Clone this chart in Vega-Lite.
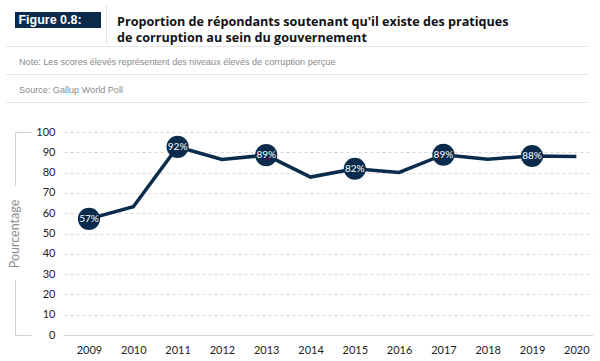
{
  "$schema": "https://vega.github.io/schema/vega-lite/v6.json",
  "background": "white",
  "padding": {"left": 5, "top": 4, "right": 0, "bottom": 0},
  "config": {
    "view": {"stroke": null},
    "font": "Lato",
    "concat": {"spacing": 0}
  },
  "datasets": {
    "series": [
      {"year": 2009, "value": 57.2, "label": "57%"},
      {"year": 2010, "value": 63.2},
      {"year": 2011, "value": 92.7, "label": "92%"},
      {"year": 2012, "value": 86.5},
      {"year": 2013, "value": 88.6, "label": "89%"},
      {"year": 2014, "value": 77.8},
      {"year": 2015, "value": 81.9, "label": "82%"},
      {"year": 2016, "value": 80.1},
      {"year": 2017, "value": 88.8, "label": "89%"},
      {"year": 2018, "value": 86.6},
      {"year": 2019, "value": 88.2, "label": "88%"},
      {"year": 2020, "value": 87.9}
    ],
    "heading": [
      {
        "figure": "Figure 0.8:",
        "title": ["Proportion de répondants soutenant qu'il existe des pratiques", "de corruption au sein du gouvernement"],
        "note": "Note: Les scores élevés représentent des niveaux élevés de corruption perçue",
        "source": "Source: Gallup World Poll"
      }
    ],
    "none": []
  },
  "align": "none",
  "spacing": 0,
  "vconcat": [
    {
      "spacing": 0,
      "hconcat": [
        {"data": {"name": "none"}, "mark": "point", "width": 9, "height": 0.01},
        {
          "spacing": 0,
          "vconcat": [
            {"data": {"name": "none"}, "mark": "point", "width": 86, "height": 7},
            {
              "data": {"name": "heading"},
              "width": 86,
              "height": 16,
              "view": {"fill": "#0b2b4c", "stroke": null},
              "mark": {"type": "text", "color": "white", "font": "Liberation Sans", "fontWeight": "bold", "fontSize": 12.5, "align": "center", "baseline": "middle", "dx": -8},
              "encoding": {"text": {"field": "figure"}}
            }
          ]
        },
        {"data": {"name": "none"}, "mark": "point", "width": 4, "height": 0.01},
        {"data": {"name": "none"}, "mark": "point", "width": 0.01, "height": 38, "view": {"stroke": "#e4e4e4", "strokeWidth": 1}},
        {"data": {"name": "none"}, "mark": "point", "width": 10, "height": 0.01},
        {
          "data": {"name": "heading"},
          "width": 0.01,
          "height": 38,
          "mark": {"type": "text", "align": "left", "baseline": "middle", "dy": -2.5, "font": "Open Sans", "fontSize": 12.6, "fontWeight": "bold", "lineHeight": 16.5, "color": "#111111"},
          "encoding": {"text": {"field": "title"}}
        }
      ]
    },
    {"data": {"name": "none"}, "mark": "point", "width": 581, "height": 0.01, "view": {"stroke": "#e4e4e4", "strokeWidth": 1}},
    {
      "spacing": 0,
      "hconcat": [
        {"data": {"name": "none"}, "mark": "point", "width": 13, "height": 26},
        {
          "data": {"name": "heading"},
          "width": 0.01,
          "height": 26,
          "mark": {"type": "text", "align": "left", "baseline": "middle", "dy": 2, "fontSize": 9.1, "font": "Liberation Sans", "color": "#8a8a8a"},
          "encoding": {"text": {"field": "note"}}
        }
      ]
    },
    {"data": {"name": "none"}, "mark": "point", "width": 581, "height": 0.01, "view": {"stroke": "#e4e4e4", "strokeWidth": 1}},
    {
      "spacing": 0,
      "hconcat": [
        {"data": {"name": "none"}, "mark": "point", "width": 13, "height": 26},
        {
          "data": {"name": "heading"},
          "width": 0.01,
          "height": 26,
          "mark": {"type": "text", "align": "left", "baseline": "middle", "dy": 2, "fontSize": 9.1, "font": "Liberation Sans", "color": "#8a8a8a"},
          "encoding": {"text": {"field": "source"}}
        }
      ]
    },
    {"data": {"name": "none"}, "mark": "point", "width": 581, "height": 0.01, "view": {"stroke": "#e4e4e4", "strokeWidth": 1}},
    {"data": {"name": "none"}, "mark": "point", "width": 10, "height": 23},
    {
      "spacing": 0,
      "hconcat": [
        {"data": {"name": "none"}, "mark": "point", "width": 1.5, "height": 0.01},
        {
          "data": {"name": "series"},
          "width": 529,
          "height": 203,
          "layer": [
            {
              "mark": {"type": "line", "color": "#0b2b4c", "strokeWidth": 3.5},
              "encoding": {
                "x": {
                  "field": "year", "type": "ordinal",
                  "scale": {"type": "point", "padding": 0.47, "align": 0.6},
                  "axis": {"title": null, "labelAngle": 0, "labelFontSize": 11, "labelColor": "#222222", "ticks": false, "tickSize": 0, "labelPadding": 9, "domain": true, "domainColor": "#d4d4d4", "domainWidth": 1, "grid": false}
                },
                "y": {
                  "field": "value", "type": "quantitative",
                  "scale": {"domain": [0, 100], "nice": false},
                  "axis": {"title": null, "orient": "left", "values": [0, 10, 20, 30, 40, 50, 60, 70, 80, 90, 100], "labelFontSize": 11, "labelColor": "#222222", "labelPadding": 9, "ticks": false, "tickSize": 0, "domain": false, "grid": true, "gridColor": "#d8d8d8", "gridDash": [3, 3], "gridWidth": 1}
                }
              }
            },
            {
              "transform": [{"filter": "isValid(datum.label)"}],
              "mark": {"type": "circle", "size": 490, "opacity": 1, "color": "#0b2b4c"},
              "encoding": {
                "x": {"field": "year", "type": "ordinal"},
                "y": {"field": "value", "type": "quantitative", "axis": null}
              }
            },
            {
              "transform": [{"filter": "isValid(datum.label)"}],
              "mark": {"type": "text", "color": "white", "fontSize": 10, "baseline": "middle", "align": "center"},
              "encoding": {
                "x": {"field": "year", "type": "ordinal"},
                "y": {
                  "field": "value", "type": "quantitative",
                  "axis": {"orient": "left", "offset": 49, "values": [0, 100], "labels": false, "grid": false, "domain": true, "domainColor": "#cfcfcf", "domainWidth": 1, "domainDash": [55, 95, 100], "ticks": true, "tickSize": -16, "tickColor": "#cfcfcf", "tickWidth": 1, "title": "Pourcentage", "titleColor": "#8c8c8c", "titleFontSize": 12.5, "titleFontWeight": "normal", "titlePadding": 0, "titleBaseline": "middle"}
                },
                "text": {"field": "label"}
              }
            }
          ],
          "resolve": {"axis": {"y": "independent"}}
        }
      ]
    }
  ]
}
